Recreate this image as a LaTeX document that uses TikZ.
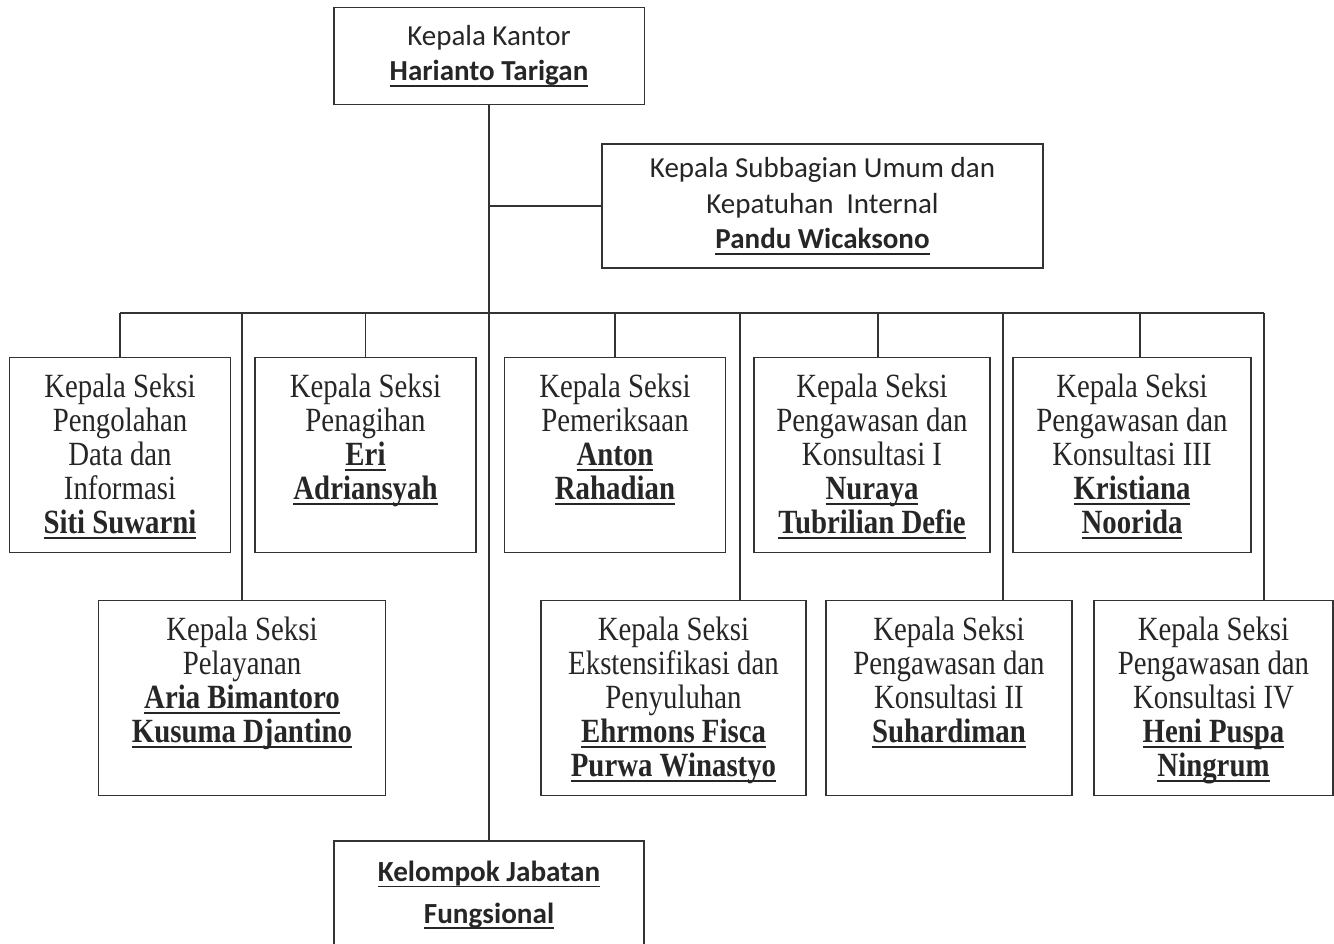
\documentclass[tikz,border=0pt]{standalone}
\usepackage{fontspec}
\setmainfont{Liberation Serif}[FakeStretch=0.85]
\newfontfamily\calibri{Carlito}
\usetikzlibrary{positioning}

\newsavebox{\namabox}
\newcommand{\nama}[1]{\sbox{\namabox}{\textbf{#1}}%
  \leavevmode\rlap{\rule[-3.4pt]{\wd\namabox}{1.1pt}}\usebox{\namabox}}
\newcommand{\isi}[2]{\parbox[c][3.9cm][t]{#1}{\centering\vspace*{0.33cm}#2}}

\tikzset{
 kepala/.style
  = {rectangle, draw=black!80, line width=1.1pt, inner sep=0pt, align=center,
     text=black!85, font=\calibri\fontsize{16.5}{20.2}\selectfont},
 seksi/.style
  = {rectangle, draw=black!80, line width=1.1pt, inner sep=0pt,
     text=black!85, font=\fontsize{19.3}{19.3}\selectfont},
 garis/.style
  = {draw=black!80, line width=1.1pt},
}

\begin{document}
\begin{tikzpicture}[x=0.02cm, y=-0.02cm]
\useasboundingbox (0,0) rectangle (1334,943);

% Kepala Kantor
\node[kepala, minimum width=6.22cm, minimum height=1.94cm] (kantor) at (489,56)
  {Kepala Kantor\\\nama{Harianto Tarigan}};

% Subbagian Umum
\node[kepala, minimum width=8.82cm, minimum height=2.48cm] (subbag) at (822.5,206)
  {Kepala Subbagian Umum dan\\Kepatuhan~~Internal\\\nama{Pandu Wicaksono}};

% Seksi baris atas
\node[seksi] (pdi) at (120,455)
  {\isi{4.42cm}{Kepala Seksi\\Pengolahan\\Data dan\\Informasi\\\nama{Siti Suwarni}}};
\node[seksi] (tagih) at (365.5,455)
  {\isi{4.42cm}{Kepala Seksi\\Penagihan\\\nama{Eri}\\\nama{Adriansyah}}};
\node[seksi] (periksa) at (615,455)
  {\isi{4.42cm}{Kepala Seksi\\Pemeriksaan\\\nama{Anton}\\\nama{Rahadian}}};
\node[seksi] (pk1) at (872,455)
  {\isi{4.72cm}{Kepala Seksi\\Pengawasan dan\\Konsultasi I\\\nama{Nuraya}\\\nama{Tubrilian Defie}}};
\node[seksi] (pk3) at (1132,455)
  {\isi{4.76cm}{Kepala Seksi\\Pengawasan dan\\Konsultasi III\\\nama{Kristiana}\\\nama{Noorida}}};

% Seksi baris bawah
\node[seksi] (layan) at (242,698)
  {\isi{5.74cm}{Kepala Seksi\\Pelayanan\\\nama{Aria Bimantoro}\\\nama{Kusuma Djantino}}};
\node[seksi] (ekst) at (673.5,698)
  {\isi{5.3cm}{Kepala Seksi\\Ekstensifikasi dan\\Penyuluhan\\\nama{Ehrmons Fisca}\\\nama{Purwa Winastyo}}};
\node[seksi] (pk2) at (949,698)
  {\isi{4.92cm}{Kepala Seksi\\Pengawasan dan\\Konsultasi II\\\nama{Suhardiman}}};
\node[seksi] (pk4) at (1213.5,698)
  {\isi{4.78cm}{Kepala Seksi\\Pengawasan dan\\Konsultasi IV\\\nama{Heni Puspa}\\\nama{Ningrum}}};

% Kelompok Jabatan Fungsional
\node[kepala, font=\calibri\fontsize{16.6}{23.8}\selectfont] (fungs) at (489,906)
  {\parbox[c][2.6cm][t]{6.2cm}{\centering\vspace*{0.4cm}%
   \nama{Kelompok Jabatan}\\\nama{Fungsional}}};

% Garis utama
\draw[garis] (kantor.south) -- (fungs.north);
\draw[garis] (subbag.west) -- (subbag.west -| kantor.south);

% Garis horizontal seksi
\coordinate (bus) at (489,313);
\coordinate (bkiri) at (120,313);
\coordinate (bkanan) at (1264,313);
\coordinate (d1) at (878,313);
\coordinate (d3) at (1140,313);
\coordinate (d5) at (740,313);
\coordinate (d2) at (1003,313);
\draw[garis] (bkiri) -- (bkanan);

% Cabang ke seksi
\draw[garis] (bkiri) -- (pdi.north);
\draw[garis] (tagih.north |- bus) -- (tagih.north);
\draw[garis] (periksa.north |- bus) -- (periksa.north);
\draw[garis] (d1) -- (d1 |- pk1.north);
\draw[garis] (d3) -- (d3 |- pk3.north);
\draw[garis] (layan.north |- bus) -- (layan.north);
\draw[garis] (d5) -- (d5 |- ekst.north);
\draw[garis] (d2) -- (d2 |- pk2.north);
\draw[garis] (bkanan) -- (bkanan |- pk4.north);

\end{tikzpicture}
\end{document}
